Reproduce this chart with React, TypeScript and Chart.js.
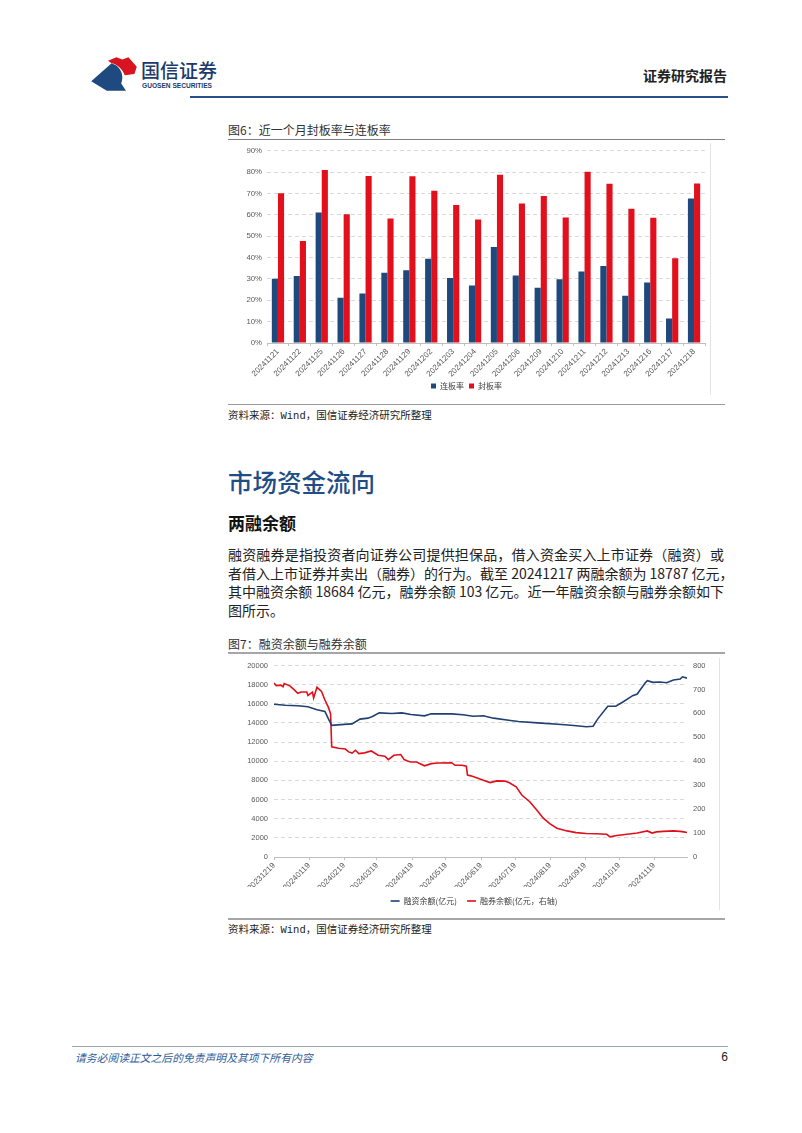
import React, { useEffect, useRef } from 'react';
import { Chart, registerables } from 'chart.js';

Chart.register(...registerables);

// ---------- Figure 6 data ----------
const barCategories = [
  '20241121', '20241122', '20241125', '20241126', '20241127', '20241128', '20241129',
  '20241202', '20241203', '20241204', '20241205', '20241206', '20241209', '20241210',
  '20241211', '20241212', '20241213', '20241216', '20241217', '20241218',
];
const lianbanRate = [30.1, 31.3, 61.1, 21.2, 23.2, 32.9, 34.0, 39.4, 30.4, 26.9, 44.9, 31.6, 25.9, 29.8, 33.5, 36.0, 22.1, 28.3, 11.5, 67.6];
const fengbanRate = [70.1, 47.7, 81.0, 60.3, 78.2, 58.3, 78.0, 71.2, 64.6, 57.8, 78.7, 65.3, 68.8, 58.7, 80.1, 74.5, 62.8, 58.6, 39.7, 74.6];
const barSeriesNames = ['连板率', '封板率'];

// ---------- Figure 7 data ----------
const financeDates = [
  '20231219', '20231229', '20240109', '20240118', '20240126', '20240202', '20240205', '20240208',
  '20240219', '20240226', '20240304', '20240311', '20240315', '20240321', '20240401', '20240410',
  '20240418', '20240430', '20240506', '20240524', '20240603', '20240612', '20240621', '20240630',
  '20240715', '20240722', '20240808', '20240829', '20240909', '20240920', '20240926', '20240930',
  '20241009', '20241016', '20241022', '20241031', '20241104', '20241111', '20241113', '20241118',
  '20241124', '20241130', '20241206', '20241212', '20241214', '20241218',
];
const financeValues = [
  15950, 15850, 15800, 15700, 15380, 15200, 14450, 13750,
  13850, 13900, 14400, 14500, 14670, 15050, 14980, 15050,
  14880, 14740, 14950, 14950, 14850, 14700, 14750, 14500,
  14260, 14150, 14010, 13840, 13740, 13600, 13650, 14400,
  15740, 15740, 16160, 16850, 17020, 18170, 18410, 18240,
  18270, 18200, 18480, 18580, 18820, 18680,
];
const shortDates = [
  '20231219', '20231221', '20231225', '20231227', '20231228', '20240102', '20240105', '20240109',
  '20240112', '20240117', '20240118', '20240122', '20240123', '20240126', '20240130', '20240202',
  '20240205', '20240207', '20240208', '20240214', '20240220', '20240223', '20240226', '20240229',
  '20240303', '20240308', '20240314', '20240320', '20240326', '20240329', '20240403', '20240409',
  '20240412', '20240415', '20240418', '20240423', '20240430', '20240506', '20240512', '20240524',
  '20240527', '20240602', '20240606', '20240607', '20240610', '20240615', '20240621', '20240627',
  '20240703', '20240710', '20240714', '20240720', '20240725', '20240801', '20240807', '20240813',
  '20240819', '20240825', '20240903', '20240911', '20240920', '20240929', '20241008', '20241011',
  '20241017', '20241026', '20241104', '20241113', '20241117', '20241121', '20241127', '20241206',
  '20241212', '20241215', '20241218',
];
const shortValues = [
  727, 716, 718, 711, 725, 715, 702, 684,
  689, 689, 675, 689, 664, 709, 692, 656,
  626, 598, 460, 454, 451, 439, 434, 446,
  432, 435, 443, 425, 421, 407, 425, 428,
  407, 401, 397, 397, 381, 390, 393, 394,
  383, 383, 379, 342, 339, 331, 321, 311,
  318, 317, 310, 293, 259, 231, 197, 162,
  138, 120, 109, 102, 98, 97, 95, 84,
  90, 95, 100, 109, 100, 105, 107, 109,
  107, 105, 102,
];
const monthTickLabels = [
  '20231219', '20240119', '20240219', '20240319', '20240419', '20240519',
  '20240619', '20240719', '20240819', '20240919', '20241019', '20241119',
];
const lineSeriesNames = ['融资余额(亿元)', '融券余额(亿元，右轴)'];
const axisStartDate = '20231219';
const axisEndDate = '20241218';

const CHART_FONT = '"Liberation Sans", "Noto Sans CJK SC", sans-serif';
const CJK_FONT = '"Noto Sans CJK SC", "Liberation Sans", sans-serif';

const toUTC = (s: string) => Date.UTC(+s.slice(0, 4), +s.slice(4, 6) - 1, +s.slice(6, 8));
const dayOf = (s: string) => Math.round((toUTC(s) - toUTC(axisStartDate)) / 86400000);

function BarChart() {
  const ref = useRef<HTMLCanvasElement | null>(null);
  useEffect(() => {
    if (!ref.current) return;
    const chart = new Chart(ref.current, {
      type: 'bar',
      data: {
        labels: barCategories,
        datasets: [
          { label: barSeriesNames[0], data: lianbanRate, backgroundColor: '#1f497d', borderWidth: 0, categoryPercentage: 0.56, barPercentage: 1 },
          { label: barSeriesNames[1], data: fengbanRate, backgroundColor: '#e1101c', borderWidth: 0, categoryPercentage: 0.56, barPercentage: 1 },
        ],
      },
      options: {
        responsive: false,
        animation: false,
        layout: { padding: { top: 9, right: 5, left: 0, bottom: 0 } },
        plugins: {
          legend: {
            position: 'bottom',
            labels: { boxWidth: 5, boxHeight: 5, padding: 5, color: '#404040', font: { size: 8, family: CJK_FONT } },
          },
          tooltip: { enabled: false },
        },
        scales: {
          x: {
            grid: { drawOnChartArea: false, drawTicks: true, tickLength: 3, color: '#bfbfbf' },
            border: { display: true, color: '#bfbfbf' },
            ticks: { autoSkip: false, minRotation: 45, maxRotation: 45, padding: 1, color: '#595959', font: { size: 8, family: CHART_FONT } },
            afterFit: (s: any) => { s.height = 34; },
          },
          y: {
            min: 0,
            max: 90,
            ticks: { stepSize: 10, padding: 5, color: '#595959', font: { size: 7.8, family: CHART_FONT }, callback: (v: any) => v + '%' },
            grid: { color: '#d9d9d9', drawTicks: false },
            border: { display: false, dash: [4, 3] },
            afterFit: (s: any) => { s.width = 39; },
          },
        },
      },
    });
    return () => chart.destroy();
  }, []);
  return <canvas ref={ref} width={482} height={259} style={{ position: 'absolute', left: 228, top: 141, width: 482, height: 259 }} />;
}

function LineChart() {
  const ref = useRef<HTMLCanvasElement | null>(null);
  useEffect(() => {
    if (!ref.current) return;
    const labelByDay: Record<number, string> = {};
    monthTickLabels.forEach((l) => { labelByDay[dayOf(l)] = l; });
    const chart = new Chart(ref.current, {
      type: 'line',
      data: {
        datasets: [
          {
            label: lineSeriesNames[0],
            data: financeDates.map((d, i) => ({ x: dayOf(d), y: financeValues[i] })),
            borderColor: '#203f72',
            backgroundColor: '#203f72',
            borderWidth: 1.6,
            pointRadius: 0,
            tension: 0,
            yAxisID: 'y',
          },
          {
            label: lineSeriesNames[1],
            data: shortDates.map((d, i) => ({ x: dayOf(d), y: shortValues[i] })),
            borderColor: '#e0101b',
            backgroundColor: '#e0101b',
            borderWidth: 1.6,
            pointRadius: 0,
            tension: 0,
            yAxisID: 'y1',
          },
        ],
      },
      options: {
        responsive: false,
        animation: false,
        layout: { padding: { top: 10, right: 0, left: 0, bottom: 0 } },
        plugins: {
          legend: {
            position: 'bottom',
            labels: {
              usePointStyle: true,
              pointStyle: 'line',
              pointStyleWidth: 9,
              padding: 10,
              color: '#404040',
              font: { size: 8, family: CJK_FONT },
            },
          },
          tooltip: { enabled: false },
        },
        scales: {
          x: {
            type: 'linear',
            min: 0,
            max: dayOf(axisEndDate),
            afterBuildTicks: (s: any) => { s.ticks = monthTickLabels.map((l) => ({ value: dayOf(l) })); },
            grid: { drawOnChartArea: false, drawTicks: true, tickLength: 3, color: '#bfbfbf' },
            border: { display: true, color: '#bfbfbf' },
            ticks: {
              autoSkip: false,
              minRotation: 45,
              maxRotation: 45,
              padding: 1,
              color: '#595959',
              font: { size: 8, family: CHART_FONT },
              callback: (v: any) => labelByDay[v] ?? '',
            },
            afterFit: (s: any) => { s.height = 30; },
          },
          y: {
            position: 'left',
            min: 0,
            max: 20000,
            ticks: { stepSize: 2000, padding: 6, color: '#595959', font: { size: 7.5, family: CHART_FONT }, callback: (v: any) => String(v) },
            grid: { color: '#d9d9d9', drawTicks: false },
            border: { display: false, dash: [4, 3] },
            afterFit: (s: any) => { s.width = 46; },
          },
          y1: {
            position: 'right',
            min: 0,
            max: 800,
            ticks: { stepSize: 100, padding: 6, color: '#595959', font: { size: 7.5, family: CHART_FONT }, callback: (v: any) => String(v) },
            grid: { display: false, drawTicks: false },
            border: { display: false },
            afterFit: (s: any) => { s.width = 33; },
          },
        },
      },
    });
    return () => chart.destroy();
  }, []);
  return <canvas ref={ref} width={492} height={260} style={{ position: 'absolute', left: 228, top: 655, width: 492, height: 260 }} />;
}

function Logo() {
  return (
    <svg width={48} height={36} viewBox="0 0 40 30" style={{ position: 'absolute', left: 90, top: 56 }}>
      <path d="M1,21 L18,6 L22,8 C27,12 28,18 26,23 L30,29 L14,29 Z" fill="#1f4a80" />
      <path d="M15,4 L22,1 L27,3 L32,1 L39,9 L37,15 L29,16 C27,11 23,7 18,6 Z" fill="#d7141f" />
    </svg>
  );
}

const abs = (left: number, top: number, extra: React.CSSProperties = {}): React.CSSProperties => ({
  position: 'absolute', left, top, ...extra,
});

const paraStyle: React.CSSProperties = {
  width: 496, fontSize: 14, lineHeight: '19px', color: '#222', textAlign: 'justify',
  whiteSpace: 'nowrap', fontFamily: CJK_FONT,
};

export default function App() {
  return (
    <div style={{ position: 'absolute', left: 0, top: 0, width: 802, height: 1133, background: '#fff', fontFamily: CJK_FONT, overflow: 'hidden' }}>
      {/* header */}
      <Logo />
      <div style={abs(141, 60, { fontSize: 19, lineHeight: '20px', color: '#1d3a6b', fontWeight: 500, letterSpacing: 0 })}>国信证券</div>
      <div style={abs(142, 82, { fontSize: 6.6, lineHeight: '8px', color: '#1d3a6b', fontWeight: 700, fontFamily: CHART_FONT })}>GUOSEN SECURITIES</div>
      <div style={abs(600, 66, { width: 127, textAlign: 'right', fontSize: 14, lineHeight: '18px', fontWeight: 700, color: '#222' })}>证券研究报告</div>
      <div style={abs(190, 96, { width: 538, height: 2, background: '#2a4f8a' })} />

      {/* figure 6 */}
      <div style={abs(228, 122, { fontSize: 12, lineHeight: '16px', color: '#333' })}>图6：近一个月封板率与连板率</div>
      <div style={abs(228, 139, { width: 497, height: 1, background: '#7f7f7f' })} />
      <BarChart />
      <div style={abs(710, 143, { width: 1, height: 252, background: '#e3e3e3' })} />
      <div style={abs(228, 404, { width: 497, height: 1, background: '#9a9a9a' })} />
      <div style={abs(228, 409, { fontSize: 10.5, lineHeight: '14px', color: '#222', fontFamily: '"Liberation Mono", "Noto Sans CJK SC", monospace' })}>资料来源：Wind，国信证券经济研究所整理</div>

      {/* section text */}
      <div style={abs(228, 467, { fontSize: 24.5, lineHeight: '30px', color: '#1f4e87', fontWeight: 500 })}>市场资金流向</div>
      <div style={abs(228, 512, { fontSize: 17, lineHeight: '22px', color: '#111', fontWeight: 700 })}>两融余额</div>
      <div style={abs(228, 545, { ...paraStyle, textAlignLast: 'justify' })}>融资融券是指投资者向证券公司提供担保品，借入资金买入上市证券（融资）或</div>
      <div style={abs(228, 563.5, { ...paraStyle, textAlignLast: 'justify' })}>者借入上市证券并卖出（融券）的行为。截至 20241217 两融余额为 18787 亿元，</div>
      <div style={abs(228, 582, { ...paraStyle, textAlignLast: 'justify' })}>其中融资余额 18684 亿元，融券余额 103 亿元。近一年融资余额与融券余额如下</div>
      <div style={abs(228, 600.5, { ...paraStyle })}>图所示。</div>

      {/* figure 7 */}
      <div style={abs(228, 636, { fontSize: 12, lineHeight: '16px', color: '#333' })}>图7：融资余额与融券余额</div>
      <div style={abs(228, 652, { width: 497, height: 2, background: '#a6a6a6' })} />
      <LineChart />
      <div style={abs(719, 658, { width: 1, height: 252, background: '#e3e3e3' })} />
      <div style={abs(228, 918, { width: 497, height: 2, background: '#a6a6a6' })} />
      <div style={abs(228, 923, { fontSize: 10.5, lineHeight: '14px', color: '#222', fontFamily: '"Liberation Mono", "Noto Sans CJK SC", monospace' })}>资料来源：Wind，国信证券经济研究所整理</div>

      {/* footer */}
      <div style={abs(72, 1046, { width: 656, height: 1, background: '#9aa7b8' })} />
      <div style={abs(75, 1050, { fontSize: 10.8, lineHeight: '14px', color: '#2e5c9a', fontStyle: 'italic' })}>请务必阅读正文之后的免责声明及其项下所有内容</div>
      <div style={abs(700, 1049, { width: 28, textAlign: 'right', fontSize: 12, lineHeight: '16px', color: '#222', fontFamily: CHART_FONT })}>6</div>
    </div>
  );
}
